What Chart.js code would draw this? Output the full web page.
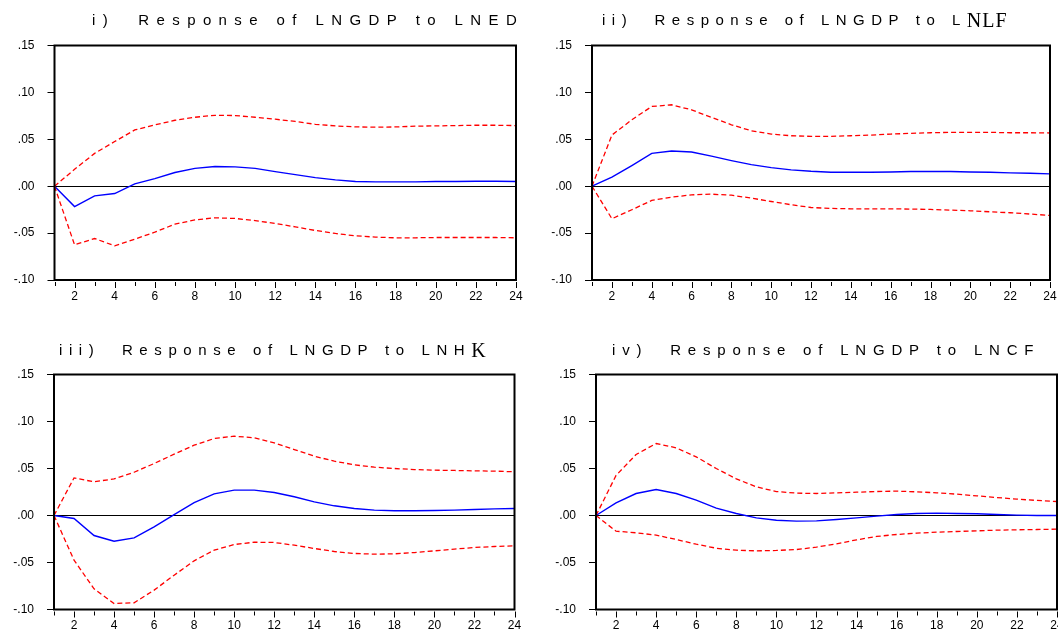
<!DOCTYPE html>
<html>
<head>
<meta charset="utf-8">
<script src="https://cdn.jsdelivr.net/npm/chart.js@4.4.0/dist/chart.umd.min.js"></script>
<style>
  html, body { margin: 0; padding: 0; background: #fff; }
  body { width: 1058px; height: 634px; position: relative; overflow: hidden; }
  canvas { position: absolute; }
</style>
</head>
<body>
<canvas id="c1" width="529" height="317" style="left:0;top:0"></canvas>
<canvas id="c2" width="529" height="317" style="left:529px;top:0"></canvas>
<canvas id="c3" width="529" height="317" style="left:0;top:317px"></canvas>
<canvas id="c4" width="545" height="317" style="left:529px;top:317px"></canvas>
<script>
// ---------- data ----------
const periods = [1,2,3,4,5,6,7,8,9,10,11,12,13,14,15,16,17,18,19,20,21,22,23,24];
const xTickLabels = ['', '2', '', '4', '', '6', '', '8', '', '10', '', '12', '', '14', '', '16', '', '18', '', '20', '', '22', '', '24'];
const yTicks = [-0.10, -0.05, 0.00, 0.05, 0.10, 0.15];
const yTickLabels = ['-.10', '-.05', '.00', '.05', '.10', '.15'];

const lnedResp  = [0, -0.0217, -0.0103, -0.0078, 0.0025, 0.0080, 0.0146, 0.0190, 0.0210, 0.0206, 0.0190, 0.0156, 0.0124, 0.0092, 0.0067, 0.0050, 0.0046, 0.0046, 0.0046, 0.0050, 0.0050, 0.0053, 0.0053, 0.0050];
const lnedUpper = [0, 0.0180, 0.0350, 0.0476, 0.0600, 0.0653, 0.0703, 0.0735, 0.0756, 0.0753, 0.0735, 0.0714, 0.0690, 0.0660, 0.0643, 0.0632, 0.0629, 0.0632, 0.0640, 0.0643, 0.0646, 0.0650, 0.0650, 0.0646];
const lnedLower = [0, -0.0625, -0.0558, -0.0636, -0.0565, -0.0490, -0.0405, -0.0359, -0.0337, -0.0344, -0.0366, -0.0398, -0.0433, -0.0472, -0.0504, -0.0529, -0.0543, -0.0550, -0.0550, -0.0547, -0.0547, -0.0547, -0.0547, -0.0550];

const lnlfResp  = [0, 0.0096, 0.0220, 0.0350, 0.0375, 0.0365, 0.0320, 0.0273, 0.0230, 0.0198, 0.0174, 0.0159, 0.0149, 0.0149, 0.0149, 0.0152, 0.0156, 0.0156, 0.0156, 0.0152, 0.0149, 0.0142, 0.0138, 0.0131];
const lnlfUpper = [0, 0.0545, 0.0708, 0.0850, 0.0868, 0.0814, 0.0733, 0.0655, 0.0591, 0.0556, 0.0538, 0.0531, 0.0531, 0.0538, 0.0545, 0.0556, 0.0563, 0.0570, 0.0574, 0.0574, 0.0574, 0.0570, 0.0570, 0.0567];
const lnlfLower = [0, -0.0347, -0.0251, -0.0152, -0.0117, -0.0092, -0.0085, -0.0096, -0.0127, -0.0163, -0.0198, -0.0227, -0.0237, -0.0241, -0.0241, -0.0241, -0.0244, -0.0248, -0.0255, -0.0262, -0.0273, -0.0283, -0.0297, -0.0312];

const lnhkResp  = [0, -0.0032, -0.0213, -0.0273, -0.0238, -0.0120, 0.0010, 0.0138, 0.0230, 0.0270, 0.0270, 0.0245, 0.0199, 0.0145, 0.0103, 0.0074, 0.0057, 0.0050, 0.0050, 0.0053, 0.0057, 0.0064, 0.0071, 0.0074];
const lnhkUpper = [0, 0.0400, 0.0358, 0.0390, 0.0460, 0.0553, 0.0652, 0.0748, 0.0819, 0.0844, 0.0826, 0.0773, 0.0702, 0.0631, 0.0578, 0.0539, 0.0514, 0.0500, 0.0489, 0.0482, 0.0479, 0.0475, 0.0472, 0.0465];
const lnhkLower = [0, -0.0475, -0.0780, -0.0936, -0.0929, -0.0794, -0.0635, -0.0482, -0.0369, -0.0309, -0.0284, -0.0287, -0.0316, -0.0351, -0.0383, -0.0404, -0.0411, -0.0408, -0.0394, -0.0376, -0.0358, -0.0340, -0.0330, -0.0323];

const lncfResp  = [0, 0.0135, 0.0234, 0.0277, 0.0234, 0.0163, 0.0078, 0.0021, -0.0025, -0.0050, -0.0060, -0.0057, -0.0043, -0.0025, -0.0007, 0.0011, 0.0021, 0.0025, 0.0021, 0.0018, 0.0011, 0.0004, 0.0000, 0.0000];
const lncfUpper = [0, 0.0426, 0.0649, 0.0766, 0.0720, 0.0624, 0.0500, 0.0390, 0.0305, 0.0255, 0.0238, 0.0234, 0.0241, 0.0248, 0.0255, 0.0259, 0.0252, 0.0241, 0.0227, 0.0209, 0.0191, 0.0174, 0.0160, 0.0149];
const lncfLower = [0, -0.0167, -0.0184, -0.0209, -0.0255, -0.0305, -0.0348, -0.0369, -0.0376, -0.0372, -0.0362, -0.0337, -0.0301, -0.0259, -0.0223, -0.0202, -0.0188, -0.0177, -0.0170, -0.0163, -0.0156, -0.0152, -0.0149, -0.0145];

// ---------- style ----------
const SANS = "'Liberation Sans', Arial, Helvetica, sans-serif";
const SERIF = "'Liberation Serif', 'Times New Roman', serif";

const titlePlugin = {
  id: 'panelTitle',
  afterDraw(chart, args, opts) {
    const ctx = chart.ctx;
    ctx.save();
    ctx.fillStyle = '#000';
    ctx.textBaseline = 'alphabetic';
    ctx.textAlign = 'left';
    let x = opts.x;
    for (const seg of opts.segments) {
      ctx.font = seg.font;
      ctx.letterSpacing = seg.spacing + 'px';
      ctx.fillText(seg.text, x, opts.y + (seg.dy || 0));
      x += ctx.measureText(seg.text).width;
    }
    ctx.restore();
  }
};

const framePlugin = {
  id: 'frame',
  afterDraw(chart) {
    const ctx = chart.ctx, a = chart.chartArea;
    const xs = chart.scales.x;
    ctx.save();
    ctx.strokeStyle = '#000';
    ctx.lineWidth = 1;
    // x tick marks below the frame
    periods.forEach((p, i) => {
      const px = Math.round(xs.getPixelForValue(i)) + 0.5;
      const len = (p % 2 === 0) ? 6 : 4;
      ctx.beginPath();
      ctx.moveTo(px, a.bottom + 2);
      ctx.lineTo(px, a.bottom + 2 + len);
      ctx.stroke();
    });
    ctx.lineWidth = 2;
    ctx.strokeRect(a.left, a.top, a.right - a.left, a.bottom - a.top);
    ctx.restore();
  }
};

function makeChart(id, resp, upper, lower, layout, title) {
  const ctx = document.getElementById(id);
  return new Chart(ctx, {
    type: 'line',
    data: {
      labels: periods,
      datasets: [
        { data: upper, borderColor: '#ff0000', borderWidth: 1.3, borderDash: [5, 3], pointRadius: 0, tension: 0, fill: false },
        { data: lower, borderColor: '#ff0000', borderWidth: 1.3, borderDash: [5, 3], pointRadius: 0, tension: 0, fill: false },
        { data: resp,  borderColor: '#0000ff', borderWidth: 1.4, pointRadius: 0, tension: 0, fill: false }
      ]
    },
    options: {
      responsive: false,
      animation: false,
      events: [],
      layout: { padding: { top: layout.top, right: layout.right, bottom: layout.bottom, left: 0 } },
      plugins: {
        legend: { display: false },
        title: { display: false },
        tooltip: { enabled: false },
        panelTitle: title
      },
      scales: {
        x: {
          type: 'category',
          offset: false,
          grid: { display: false },
          border: { display: false },
          ticks: {
            autoSkip: false,
            maxRotation: 0,
            padding: 1,
            color: '#000',
            font: { family: SANS, size: 12 },
            callback: (v, i) => xTickLabels[i]
          },
          afterFit: s => { s.height = layout.xh; }
        },
        y: {
          min: -0.10,
          max: 0.15,
          afterBuildTicks: s => { s.ticks = yTicks.map(v => ({ value: v })); },
          grid: {
            drawOnChartArea: true,
            color: c => (c.tick && Math.abs(c.tick.value) < 1e-9) ? '#000' : 'rgba(0,0,0,0)',
            tickColor: '#000',
            tickLength: 7,
            lineWidth: 1
          },
          border: { display: false },
          ticks: {
            padding: 13,
            color: '#000',
            font: { family: SANS, size: 12 },
            callback: (v, i) => yTickLabels[i]
          },
          afterFit: s => { s.width = layout.left; }
        }
      }
    },
    plugins: [titlePlugin, framePlugin]
  });
}

const sansTitle = '15px ' + SANS;
const serifTitle = '20px ' + SERIF;

makeChart('c1', lnedResp, lnedUpper, lnedLower,
  { left: 54.5, right: 13, top: 45.5, bottom: 7, xh: 30 },
  { x: 92, y: 25, segments: [{ text: 'i)  Response of LNGDP to LNED', font: sansTitle, spacing: 7.4 }] });

makeChart('c2', lnlfResp, lnlfUpper, lnlfLower,
  { left: 63, right: 8, top: 45.5, bottom: 7, xh: 30 },
  { x: 73, y: 25, segments: [
    { text: 'ii)  Response of LNGDP to L', font: sansTitle, spacing: 6.5 },
    { text: 'NLF', font: serifTitle, spacing: 1, dy: 2 }
  ] });

makeChart('c3', lnhkResp, lnhkUpper, lnhkLower,
  { left: 54, right: 14.5, top: 57.5, bottom: 0, xh: 24.5 },
  { x: 59, y: 38, segments: [
    { text: 'iii)  Response of LNGDP to LNH', font: sansTitle, spacing: 6.6 },
    { text: 'K', font: serifTitle, spacing: 0, dy: 2 }
  ] });

makeChart('c4', lncfResp, lncfUpper, lncfLower,
  { left: 67, right: 17, top: 57.5, bottom: 0, xh: 24.5 },
  { x: 83, y: 38, segments: [{ text: 'iv)  Response of LNGDP to LNCF', font: sansTitle, spacing: 6.8 }] });
</script>
</body>
</html>
